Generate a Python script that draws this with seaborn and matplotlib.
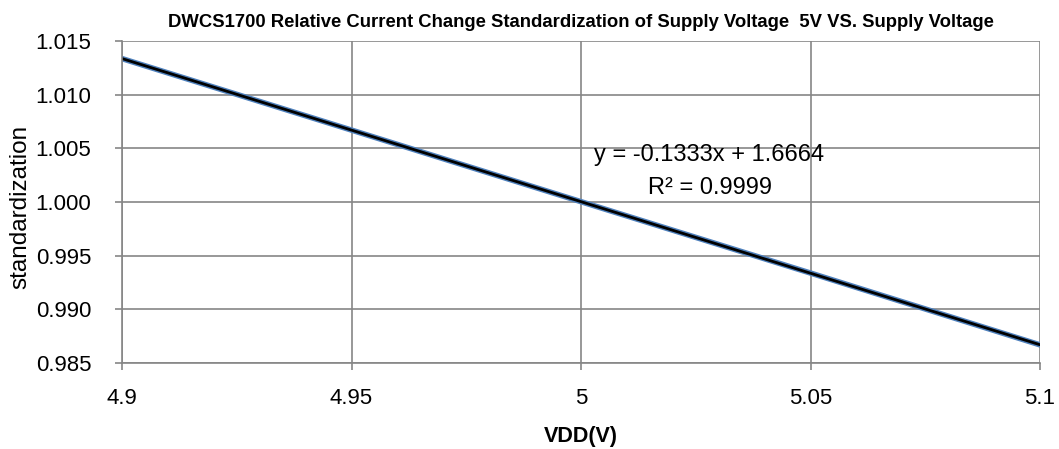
import numpy as np
import pandas as pd
import matplotlib
matplotlib.use("Agg")
import matplotlib.pyplot as plt
import seaborn as sns

vdd = [4.90, 4.95, 5.00, 5.05, 5.10]
standardization = [1.01336, 1.00670, 1.00003, 0.99338, 0.98669]
x_ticks = [4.9, 4.95, 5.0, 5.05, 5.1]
x_labels = ["4.9", "4.95", "5", "5.05", "5.1"]
y_ticks = [0.985, 0.990, 0.995, 1.000, 1.005, 1.010, 1.015]
title = "DWCS1700 Relative Current Change Standardization of Supply Voltage  5V VS. Supply Voltage"

sns.set_theme(style="white")
plt.rcParams['font.family'] = ['Liberation Sans', 'DejaVu Sans']
plt.rcParams['text.color'] = 'black'
plt.rcParams['axes.labelcolor'] = 'black'

df = pd.DataFrame({"VDD": vdd, "std": standardization})
coef = np.polyfit(vdd, standardization, 1)
trend = pd.DataFrame({"VDD": vdd, "fit": np.polyval(coef, vdd)})

fig = plt.figure(figsize=(10.59, 4.49), dpi=100)
ax = fig.add_axes([122/1059, 1-363/449, (1040-122)/1059, (363-41)/449])

sns.lineplot(data=df, x="VDD", y="std", ax=ax, color="#4F81BD", linewidth=4)
sns.lineplot(data=trend, x="VDD", y="fit", ax=ax, color="black", linewidth=2)

ax.set_xlim(4.9, 5.1)
ax.set_ylim(0.985, 1.015)
ax.set_xticks(x_ticks)
ax.set_xticklabels(x_labels)
ax.set_yticks(y_ticks)
ax.set_yticklabels([f"{v:.3f}" for v in y_ticks])
ax.grid(True, color="#868686", linewidth=1.2)
for s in ["top", "right"]:
    ax.spines[s].set_visible(False)
for s in ["left", "bottom"]:
    ax.spines[s].set_color("#868686")
    ax.spines[s].set_linewidth(1.2)
ax.tick_params(axis="both", which="major", length=5, width=1.2, color="#868686",
               labelsize=16, labelcolor="black", direction="out")
ax.tick_params(axis="y", pad=17)
ax.tick_params(axis="x", pad=13)
ax.tick_params(left=True, bottom=True)

ax.set_xlabel("VDD(V)", fontsize=15.5, fontweight="bold", labelpad=12)
ax.set_ylabel("standardization", fontsize=17.5)
ax.yaxis.set_label_coords(-0.099, 0.485)
ax.set_title(title, fontsize=13.3, fontweight="bold", pad=10)

ax.text(5.028, 1.00438, "y = -0.1333x + 1.6664", fontsize=17, ha="center", va="center")
ax.text(5.028, 1.0013, "R² = 0.9999", fontsize=17, ha="center", va="center")

fig.savefig("out.png", dpi=100)
